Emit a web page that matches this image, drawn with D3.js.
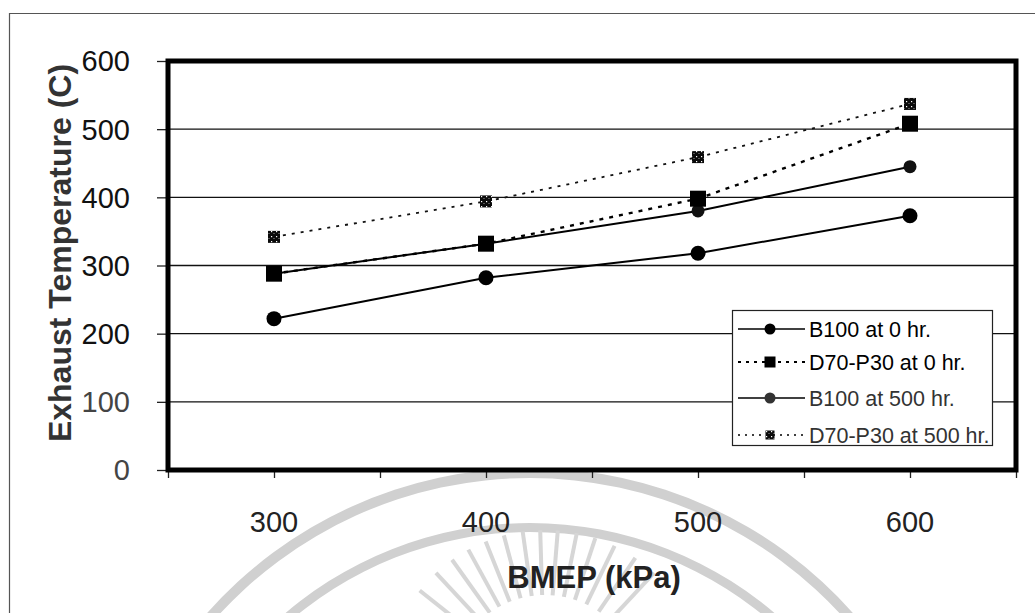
<!DOCTYPE html>
<html><head><meta charset="utf-8">
<script src="https://cdnjs.cloudflare.com/ajax/libs/d3/7.8.5/d3.min.js"></script>
<style>
html,body{margin:0;padding:0;background:#fff;}
svg{display:block;font-family:"Liberation Sans",Arial,sans-serif;}
</style></head>
<body>
<svg id="chart" width="1035" height="613"></svg>
<script>
// ---- data ----
const bmep = [300, 400, 500, 600];
const b100_0hr = [222, 282, 318, 373];
const d70p30_0hr = [288, 332, 398, 508];
const b100_500hr = [288, 332, 380, 445];
const d70p30_500hr = [342, 394, 459, 537];
const seriesNames = ["B100 at 0 hr.", "D70-P30 at 0 hr.", "B100 at 500 hr.", "D70-P30 at 500 hr."];
const xTicks = [250, 300, 350, 400, 450, 500, 550, 600, 650];
const xTickLabels = [300, 400, 500, 600];
const yTicks = [0, 100, 200, 300, 400, 500, 600];
const xTitle = "BMEP (kPa)";
const yTitle = "Exhaust Temperature (C)";

const svg = d3.select("#chart");
const defs = svg.append("defs");
const pat = defs.append("pattern").attr("id","hatch").attr("width",5).attr("height",5)
  .attr("patternUnits","userSpaceOnUse");
pat.append("rect").attr("width",5).attr("height",5).attr("fill","#0a0a0a");
pat.append("rect").attr("x",1).attr("y",1).attr("width",1.2).attr("height",1.2).attr("fill","#fff");
pat.append("rect").attr("x",3.5).attr("y",3).attr("width",1).attr("height",1).attr("fill","#999");

const x = d3.scaleLinear().domain([250, 650]).range([168, 1016]);
const y = d3.scaleLinear().domain([0, 600]).range([470, 61]);

// outer frame of scanned figure
svg.append("line").attr("x1",9.5).attr("x2",9.5).attr("y1",13).attr("y2",613).attr("stroke","#555").attr("stroke-width",1.2);
svg.append("line").attr("x1",9).attr("x2",1035).attr("y1",13.5).attr("y2",13.5).attr("stroke","#555").attr("stroke-width",1.2);

// faint watermark arcs
const wm = svg.append("g");
wm.append("path").attr("d", d3.arc()({innerRadius:422, outerRadius:432, startAngle:-0.85, endAngle:0.85}))
  .attr("transform","translate(530,900)").attr("fill","#d0d0d0");
wm.append("path").attr("d", d3.arc()({innerRadius:368, outerRadius:377, startAngle:-0.75, endAngle:0.75}))
  .attr("transform","translate(530,900)").attr("fill","#d0d0d0");
const rays = [-0.9,-0.75,-0.62,-0.5,-0.38,-0.26,-0.14,-0.03,0.08,0.2,0.32,0.45,0.6,0.75];
rays.forEach(a=>{
  const cx=545, cy=690, r0=95, r1=160;
  wm.append("line").attr("x1",cx+r0*Math.sin(a)).attr("y1",cy-r0*Math.cos(a))
    .attr("x2",cx+r1*Math.sin(a)).attr("y2",cy-r1*Math.cos(a)).attr("stroke-width",4).attr("stroke","#d6d6d6");
});

// gridlines
svg.append("g").selectAll("line").data(yTicks.filter(d=>d>0&&d<600)).join("line")
  .attr("x1",x(250)).attr("x2",x(650)).attr("y1",d=>y(d)).attr("y2",d=>y(d))
  .attr("stroke","#111").attr("stroke-width",1.3);

// axes ticks
const xAxis = d3.axisBottom(x).tickValues(xTicks).tickSize(8).tickFormat("");
const gx = svg.append("g").attr("transform",`translate(0,${y(0)})`).call(xAxis);
gx.select(".domain").remove();
gx.selectAll("line").attr("stroke","#222").attr("stroke-width",1.3);
const yAxis = d3.axisLeft(y).tickValues(yTicks).tickSize(11).tickFormat("");
const gy = svg.append("g").attr("transform",`translate(${x(250)},0)`).call(yAxis);
gy.select(".domain").remove();
gy.selectAll("line").attr("stroke","#222").attr("stroke-width",1.3);

// tick labels
svg.append("g").selectAll("text").data(xTickLabels).join("text")
  .attr("x",d=>x(d)).attr("y",532).attr("text-anchor","middle")
  .attr("font-size",29).attr("fill","#222").text(d=>d);
svg.append("g").selectAll("text").data(yTicks).join("text")
  .attr("x",130).attr("y",d=>y(d)).attr("dy","0.36em").attr("text-anchor","end")
  .attr("font-size",29).attr("fill",d=>d<=100?"#444":"#111").text(d=>d);

// axis titles
svg.append("text").attr("x",594).attr("y",588).attr("text-anchor","middle")
  .attr("font-size",31).attr("font-weight","bold").attr("fill","#222").text(xTitle);
svg.append("text").attr("transform","translate(71,253) rotate(-90)").attr("text-anchor","middle")
  .attr("font-size",32).attr("font-weight","bold").attr("fill","#333").text(yTitle);

// plot frame
svg.append("rect").attr("x",x(250)).attr("y",y(600)).attr("width",x(650)-x(250)).attr("height",y(0)-y(600))
  .attr("fill","none").attr("stroke","#000").attr("stroke-width",5);

// series
const line = d3.line().x((d,i)=>x(bmep[i])).y(d=>y(d));
const plot = svg.append("g");
plot.append("path").datum(d70p30_500hr).attr("d",line).attr("fill","none")
  .attr("stroke","#111").attr("stroke-width",1.8).attr("stroke-dasharray","3,6");
plot.append("path").datum(d70p30_0hr).attr("d",line).attr("fill","none")
  .attr("stroke","#000").attr("stroke-width",2.4).attr("stroke-dasharray","4,6");
plot.append("path").datum(b100_500hr).attr("d",line).attr("fill","none")
  .attr("stroke","#000").attr("stroke-width",2);
plot.append("path").datum(b100_0hr).attr("d",line).attr("fill","none")
  .attr("stroke","#000").attr("stroke-width",2);

plot.append("g").selectAll("circle").data(b100_500hr).join("circle")
  .attr("cx",(d,i)=>x(bmep[i])).attr("cy",d=>y(d)).attr("r",6.5).attr("fill","#111");
plot.append("g").selectAll("circle").data(b100_0hr).join("circle")
  .attr("cx",(d,i)=>x(bmep[i])).attr("cy",d=>y(d)).attr("r",7.5).attr("fill","#000");
plot.append("g").selectAll("rect").data(d70p30_0hr).join("rect")
  .attr("x",(d,i)=>x(bmep[i])-8).attr("y",d=>y(d)-8).attr("width",16).attr("height",16).attr("fill","#000");
plot.append("g").selectAll("rect").data(d70p30_500hr).join("rect")
  .attr("x",(d,i)=>x(bmep[i])-6).attr("y",d=>y(d)-6).attr("width",12).attr("height",12).attr("fill","url(#hatch)");

// legend
const lg = svg.append("g");
lg.append("rect").attr("x",732.5).attr("y",310.5).attr("width",260).attr("height",135)
  .attr("fill","#fff").attr("stroke","#222").attr("stroke-width",1.2);
const ly = [329, 362, 398, 435];
const styles = [
  {dash:null, w:1.6, marker:"circle", r:5.5, fill:"#000", text:"#000"},
  {dash:"3,5", w:2.2, marker:"square", s:11, fill:"#000", text:"#000"},
  {dash:null, w:1.6, marker:"circle", r:5.5, fill:"#333", text:"#333"},
  {dash:"2,5", w:1.4, marker:"hatch", s:9, fill:"url(#hatch)", text:"#333"}
];
seriesNames.forEach((name,i)=>{
  const st = styles[i];
  const g = lg.append("g");
  g.append("line").attr("x1",738).attr("x2",805).attr("y1",ly[i]).attr("y2",ly[i])
    .attr("stroke","#000").attr("stroke-width",st.w).attr("stroke-dasharray",st.dash);
  if(st.marker==="circle") g.append("circle").attr("cx",770).attr("cy",ly[i]).attr("r",st.r).attr("fill",st.fill);
  else g.append("rect").attr("x",770-st.s/2).attr("y",ly[i]-st.s/2).attr("width",st.s).attr("height",st.s).attr("fill",st.fill);
  g.append("text").attr("x",809).attr("y",ly[i]).attr("dy","0.36em").attr("font-size",21.5)
    .attr("fill",st.text).text(name);
});
</script>
</body></html>
